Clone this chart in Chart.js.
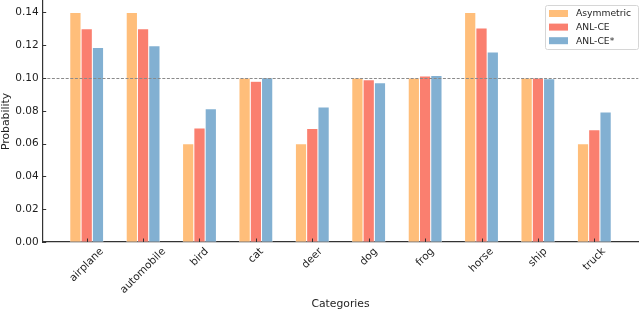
<!DOCTYPE html>
<html lang="en">
<head>
  <meta charset="UTF-8">
  <title>Probability per category</title>
  <script src="https://cdn.jsdelivr.net/npm/chart.js"></script>
  <style>
    * { margin: 0; padding: 0; }
    body { background: #fff; width: 640px; height: 312px; overflow: hidden; }
    #wrap { position: relative; width: 640px; height: 312px; }
  </style>
</head>
<body>
<div id="wrap"><canvas id="chart" width="640" height="312"></canvas></div>

<script>
  // data
  const categories = ['airplane', 'automobile', 'bird', 'cat', 'deer', 'dog', 'frog', 'horse', 'ship', 'truck'];
  const asymmetric = [0.140, 0.140, 0.060, 0.100, 0.060, 0.100, 0.100, 0.140, 0.100, 0.060];
  const anlCe      = [0.130, 0.130, 0.0695, 0.098, 0.0693, 0.099, 0.1012, 0.1305, 0.100, 0.0685];
  const anlCeStar  = [0.1187, 0.1197, 0.0813, 0.1002, 0.0823, 0.0971, 0.1016, 0.1159, 0.0995, 0.0793];
  const yTicks = [0, 0.02, 0.04, 0.06, 0.08, 0.10, 0.12, 0.14];
  const refLine = 0.10;

  const FONT = 'DejaVu Sans';
  const TEXT = '#1e1e1e';
  const AXIS = '#333';

  const pts = arr => arr.map((v, i) => ({ x: i, y: v }));

  // inward tick marks, dashed reference line, rotated category labels, legend box
  const decor = {
    id: 'decor',
    afterDatasetsDraw(chart) {
      const { ctx, chartArea: a, scales: { y } } = chart;
      ctx.save();
      ctx.strokeStyle = '#8a8a8a';
      ctx.lineWidth = 1;
      ctx.setLineDash([3, 1.6]);
      const ry = Math.round(y.getPixelForValue(refLine)) + 0.5;
      ctx.beginPath(); ctx.moveTo(a.left, ry); ctx.lineTo(a.right, ry); ctx.stroke();
      ctx.restore();
    },
    afterDraw(chart) {
      const { ctx, chartArea: a, scales: { x, y } } = chart;
      ctx.save();
      ctx.strokeStyle = AXIS;
      ctx.lineWidth = 1;
      yTicks.forEach(v => {
        const py = Math.round(y.getPixelForValue(v)) + 0.5;
        ctx.beginPath(); ctx.moveTo(a.left, py); ctx.lineTo(a.left + 3.5, py); ctx.stroke();
      });
      categories.forEach((c, i) => {
        const px = Math.round(x.getPixelForValue(i)) + 0.5;
        ctx.beginPath(); ctx.moveTo(px, a.bottom); ctx.lineTo(px, a.bottom - 3.5); ctx.stroke();
      });

      // x labels: rotated 45deg, bounding box centred on the tick
      ctx.font = '10.5px "' + FONT + '"';
      ctx.fillStyle = TEXT;
      ctx.textAlign = 'center';
      ctx.textBaseline = 'middle';
      const h = 8;
      categories.forEach((c, i) => {
        const w = ctx.measureText(c).width;
        const half = (w + h) / (2 * Math.SQRT2);
        ctx.save();
        ctx.translate(x.getPixelForValue(i), a.bottom + 5 + half);
        ctx.rotate(-Math.PI / 4);
        ctx.fillText(c, 0, 0);
        ctx.restore();
      });

      // legend
      const lx = 545.5, ly = 5.5, lw = 93, lh = 44;
      ctx.beginPath();
      ctx.roundRect(lx, ly, lw, lh, 2);
      ctx.fillStyle = 'rgba(255,255,255,0.85)';
      ctx.fill();
      ctx.strokeStyle = '#d6d6d6';
      ctx.lineWidth = 1;
      ctx.stroke();
      ctx.font = '9.2px "' + FONT + '"';
      ctx.textAlign = 'left';
      chart.data.datasets.forEach((ds, k) => {
        const cy = 13.5 + k * 13.6;
        ctx.fillStyle = ds.backgroundColor;
        ctx.fillRect(549, cy - 3.5, 19, 7);
        ctx.fillStyle = TEXT;
        ctx.fillText(ds.label, 576, cy + 0.5);
      });
      ctx.restore();
    }
  };

  new Chart(document.getElementById('chart'), {
    type: 'bar',
    data: {
      datasets: [
        { label: 'Asymmetric', data: pts(asymmetric), backgroundColor: '#FFBE7A' },
        { label: 'ANL-CE', data: pts(anlCe), backgroundColor: '#FA7F6F' },
        { label: 'ANL-CE*', data: pts(anlCeStar), backgroundColor: '#82B0D2' }
      ]
    },
    options: {
      responsive: false,
      animation: false,
      layout: { padding: { top: 1, right: 1.7, left: 0, bottom: 0 } },
      datasets: {
        bar: {
          categoryPercentage: 0.6,
          barPercentage: 1.0,
          borderWidth: 0.5,
          borderColor: 'rgba(255,255,255,0.6)',
          borderSkipped: false
        }
      },
      plugins: { legend: { display: false }, tooltip: { enabled: false } },
      scales: {
        x: {
          type: 'linear',
          offset: false,
          min: -0.78,
          max: 9.78,
          grid: { display: false, drawTicks: false, offset: false },
          border: { display: true, color: AXIS, width: 1.2 },
          ticks: { display: false },
          title: {
            display: true, text: 'Categories', color: TEXT,
            font: { family: FONT, size: 10.8 }, padding: { top: 0, bottom: 1.5 }
          },
          afterFit: s => { s.height = 70; s.paddingLeft = 0; s.paddingRight = 0; }
        },
        y: {
          min: 0,
          max: 0.147,
          grid: { display: false, drawTicks: false },
          border: { display: true, color: AXIS, width: 1.2 },
          afterBuildTicks: s => { s.ticks = yTicks.map(v => ({ value: v })); },
          ticks: {
            padding: 4, color: TEXT,
            font: { family: FONT, size: 10.5 },
            callback: v => v.toFixed(2)
          },
          title: {
            display: true, text: 'Probability', color: TEXT,
            font: { family: FONT, size: 10.8 }, padding: { top: 0, bottom: 0 }
          },
          afterFit: s => { s.width = 42.7; s.paddingTop = 0; s.paddingBottom = 0; }
        }
      }
    },
    plugins: [decor]
  });
</script>
</body>
</html>
